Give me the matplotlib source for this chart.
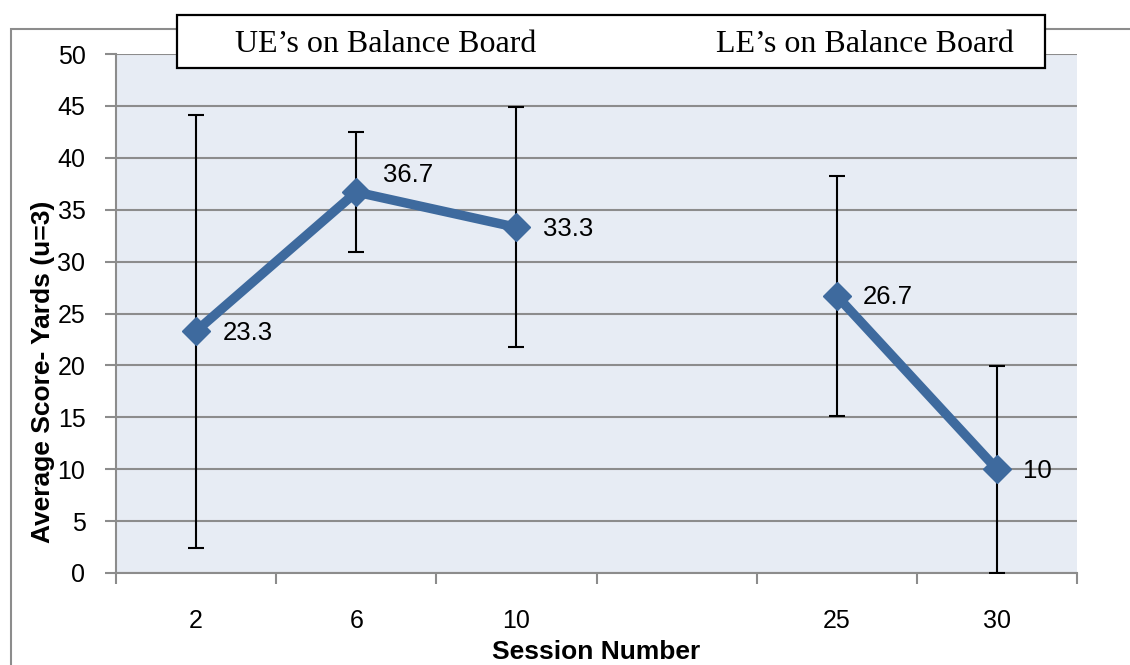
import matplotlib.pyplot as plt
import numpy as np
from matplotlib.patches import Rectangle
from matplotlib.ticker import FixedLocator

# session categories (blank slot separates the two conditions)
sessions = ['2', '6', '10', '', '25', '30']
means = [23.3, 36.7, 33.3, np.nan, 26.7, 10]
err_low = [2.4, 30.9, 21.8, np.nan, 15.1, 0.0]
err_high = [44.1, 42.5, 44.9, np.nan, 38.2, 19.9]
point_labels = ['23.3', '36.7', '33.3', '', '26.7', '10']
group_titles = ['UE\u2019s on Balance Board', 'LE\u2019s on Balance Board']

plt.rcParams['font.family'] = ['Liberation Sans', 'DejaVu Sans']

W, H = 1130, 665
fig = plt.figure(figsize=(W / 100, H / 100), dpi=100)
ax = fig.add_axes([116 / W, (H - 573) / H, 961 / W, 519 / H])
ax.set_facecolor('#E7ECF4')

x = np.arange(len(sessions))
m = np.array(means, dtype=float)
lo = m - np.array(err_low)
hi = np.array(err_high) - m

ax.errorbar(x, m, yerr=[lo, hi], fmt='none', ecolor='black', elinewidth=1.5,
            capsize=6, capthick=1.5, zorder=3)
ax.plot(x, m, color='#3E6A9E', lw=6.8, marker='D', markersize=14,
        solid_capstyle='butt', zorder=4)

for i, lab in enumerate(point_labels):
    if not lab:
        continue
    dy = 12 if lab == '36.7' else -1
    ax.annotate(lab, (x[i], m[i]), xytext=(19, dy), textcoords='offset points',
                ha='left', va='center', fontsize=18.5, zorder=5)

ax.set_xlim(-0.5, len(sessions) - 0.5)
ax.set_ylim(0, 50)
ax.set_yticks(np.arange(0, 51, 5))
ax.set_xticks(x)
ax.set_xticklabels(sessions)
ax.xaxis.set_minor_locator(FixedLocator(np.arange(-0.5, len(sessions), 1)))
ax.tick_params(axis='x', which='major', length=0, pad=26, labelsize=18)
ax.tick_params(axis='x', which='minor', length=8, width=1.5, color='#8C8C8C')
ax.tick_params(axis='y', length=8, width=1.5, color='#8C8C8C', pad=14, labelsize=18)

ax.yaxis.grid(True, color='#8C8C8C', lw=1.5)
ax.set_axisbelow(True)
for s in ['top', 'right']:
    ax.spines[s].set_visible(False)
for s in ['left', 'bottom']:
    ax.spines[s].set_color('#8C8C8C')
    ax.spines[s].set_linewidth(1.5)

ax.set_xlabel('Session Number', fontsize=19, fontweight='bold', labelpad=5)
ax.set_ylabel('Average Score- Yards (u=3)', fontsize=19, fontweight='bold')
ax.yaxis.set_label_coords(-0.063, 0.387)

# outer frame of the figure
fig.add_artist(Rectangle((11 / W, -0.1), 1.2, (H - 29) / H + 0.1, transform=fig.transFigure,
                         fill=False, edgecolor='#8C8C8C', lw=1.5, zorder=-1))

# header box with the two condition titles
fig.add_artist(Rectangle((177 / W, (H - 68) / H), 868 / W, 53 / H, transform=fig.transFigure,
                         facecolor='white', edgecolor='black', lw=1.6, zorder=10))
for cx, t in zip([386, 865], group_titles):
    fig.text(cx / W, (H - 44) / H, t, ha='center', va='center', fontsize=23,
             family=['Liberation Serif', 'DejaVu Serif'], zorder=11)

fig.savefig('out.png', dpi=100)
